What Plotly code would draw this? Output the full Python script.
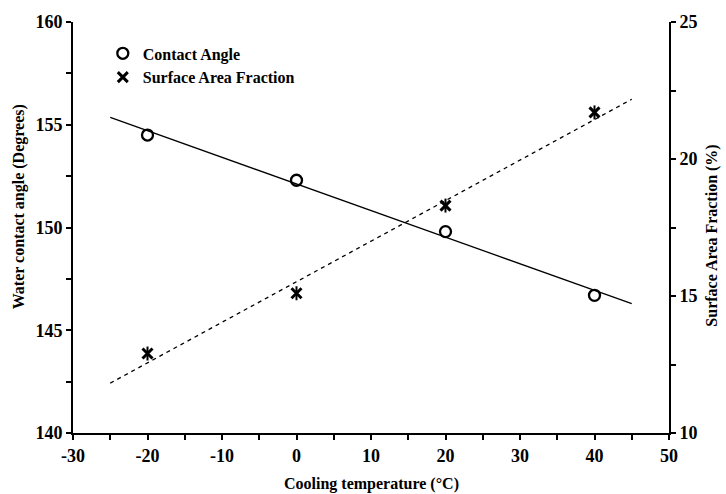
import numpy as np
import plotly.graph_objects as go

temps = [-20, 0, 20, 40]
contact_angle = [154.5, 152.3, 149.8, 146.7]
surface_fraction = [12.9, 15.1, 18.3, 21.7]
fit_x = [-25, 45]

x_ticks = [-30, -20, -10, 0, 10, 20, 30, 40, 50]
x_ticklabels = ["-30", "-20", "-10", "0", "10", "20", "30", "40", "50"]
y1_ticks = [140, 145, 150, 155, 160]
y1_ticklabels = ["140", "145", "150", "155", "160"]
y2_ticks = [10, 15, 20, 25]
y2_ticklabels = ["10", "15", "20", "25"]

FONT = "Liberation Serif"

ca_fit = np.polyfit(temps, contact_angle, 1)
sf_fit = np.polyfit(temps, surface_fraction, 1)
fx = np.array(fit_x, dtype=float)

fig = go.Figure()

fig.add_trace(go.Scatter(x=fx, y=np.polyval(ca_fit, fx), mode="lines",
                         line=dict(color="black", width=1.3), showlegend=False, hoverinfo="skip"))
fig.add_trace(go.Scatter(x=fx, y=np.polyval(sf_fit, fx), mode="lines", yaxis="y2",
                         line=dict(color="black", width=1.3, dash="4px,4px"), showlegend=False, hoverinfo="skip"))

fig.add_trace(go.Scatter(x=temps, y=contact_angle, mode="markers", name="Contact Angle",
                         marker=dict(symbol="circle-open", size=11, color="black", line=dict(width=2.3))))
fig.add_trace(go.Scatter(x=temps, y=surface_fraction, mode="markers", name="Surface Area Fraction",
                         yaxis="y2",
                         marker=dict(symbol="x-thin-open", size=10, color="black", line=dict(width=3))))
fig.add_trace(go.Scatter(x=temps, y=surface_fraction, mode="markers", showlegend=False,
                         yaxis="y2",
                         marker=dict(symbol="line-ns-open", size=10, color="black", line=dict(width=2))))

bold = lambda labels: ["<b>%s</b>" % t for t in labels]

tick_font = dict(family=FONT, size=18, color="black")
title_font = dict(family=FONT, size=16, color="black")

common = dict(showgrid=False, zeroline=False, showline=True, linecolor="black", linewidth=2,
              ticks="outside", ticklen=5, tickwidth=1.5, tickcolor="black", tickfont=tick_font)

fig.update_layout(
    width=726, height=494,
    margin=dict(l=73, r=57, t=17, b=61),
    paper_bgcolor="white", plot_bgcolor="white",
    font=dict(family=FONT, size=16, color="black"),
    showlegend=True,
    legend=dict(x=0.05, y=0.965, xanchor="left", yanchor="top",
                font=dict(family=FONT, size=16, color="black", weight="bold"),
                bgcolor="rgba(0,0,0,0)", itemwidth=30, tracegroupgap=0),
    xaxis=dict(range=[-30, 50], tickmode="array", tickvals=x_ticks, ticktext=bold(x_ticklabels),
               minor=dict(dtick=5, ticks="outside", ticklen=5, tickwidth=1.5, tickcolor="black"),
               **common),
    yaxis=dict(range=[140, 160], tickmode="array", tickvals=y1_ticks, ticktext=bold(y1_ticklabels),
               minor=dict(dtick=2.5, ticks="outside", ticklen=5, tickwidth=1.5, tickcolor="black"),
               **common),
    yaxis2=dict(range=[10, 25], tickmode="array", tickvals=y2_ticks, ticktext=bold(y2_ticklabels),
                overlaying="y", side="right",
                minor=dict(dtick=2.5, ticks="outside", ticklen=5, tickwidth=1.5, tickcolor="black"),
                **common),
    annotations=[
        dict(text="<b>Cooling temperature (°C)</b>", xref="paper", yref="paper", x=0.5, y=-0.125,
             xanchor="center", yanchor="middle", showarrow=False, font=title_font),
        dict(text="<b>Water contact angle (Degrees)</b>", xref="paper", yref="paper", x=-0.09, y=0.55,
             xanchor="center", yanchor="middle", showarrow=False, textangle=-90, font=title_font),
        dict(text="<b>Surface Area Fraction (%)</b>", xref="paper", yref="paper", x=1.072, y=0.48,
             xanchor="center", yanchor="middle", showarrow=False, textangle=-90, font=title_font),
    ],
)

fig.write_html("out.html")
